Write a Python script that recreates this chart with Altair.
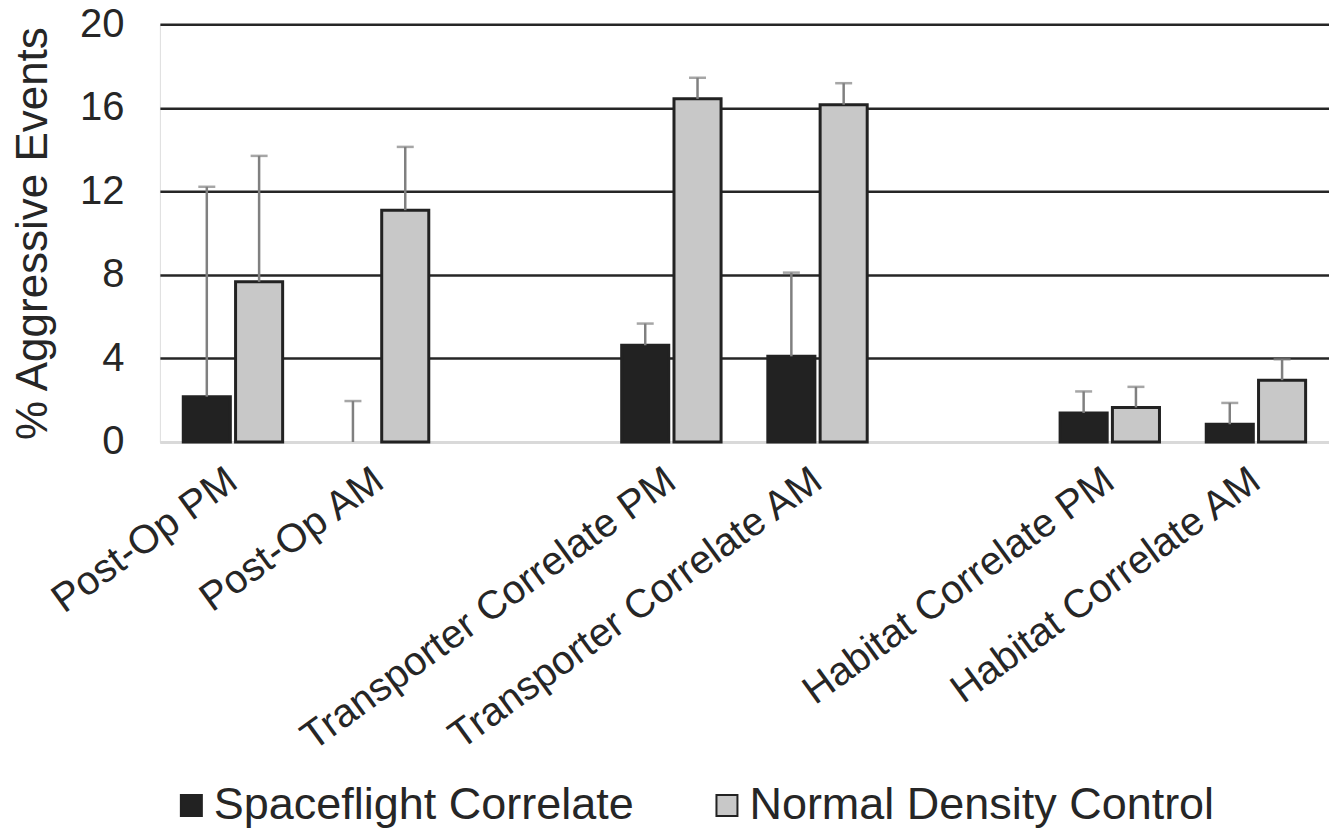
import altair as alt
import pandas as pd

categories = ["Post-Op PM", "Post-Op AM", " ", "Transporter Correlate PM",
              "Transporter Correlate AM", "  ", "Habitat Correlate PM", "Habitat Correlate AM"]
groups = ["Post-Op PM", "Post-Op AM", "Transporter Correlate PM",
          "Transporter Correlate AM", "Habitat Correlate PM", "Habitat Correlate AM"]
series = ["Spaceflight Correlate", "Normal Density Control"]
spaceflight_mean = [2.17, 0.0, 4.63, 4.10, 1.39, 0.85]
spaceflight_err = [10.05, 1.96, 1.04, 4.01, 1.03, 1.02]
control_mean = [7.67, 11.10, 16.43, 16.15, 1.65, 2.96]
control_err = [6.03, 3.03, 1.01, 1.03, 0.99, 1.00]
y_ticks = [0, 4, 8, 12, 16, 20]

rows = []
for i, g in enumerate(groups):
    rows.append({"cat": g, "series": series[0], "value": spaceflight_mean[i],
                 "upper": spaceflight_mean[i] + spaceflight_err[i]})
    rows.append({"cat": g, "series": series[1], "value": control_mean[i],
                 "upper": control_mean[i] + control_err[i]})
df = pd.DataFrame(rows)

FONT = "Liberation Sans"
TXT = "#262626"

x_enc = alt.X("cat:N", scale=alt.Scale(domain=categories, paddingInner=0.32, paddingOuter=0.16),
              sort=categories,
              axis=alt.Axis(title=None, labelAngle=324, labelFontSize=40, labelFont=FONT,
                            labelColor=TXT, ticks=False, domain=True, domainColor="#d9d9d9",
                            domainWidth=3, labelPadding=34, labelLimit=1000, labelAlign="right",
                            labelBaseline="middle"))
xo_enc = alt.XOffset("series:N", scale=alt.Scale(domain=series, paddingInner=0.1), sort=series)
y_scale = alt.Scale(domain=[0, 20], nice=False)

bars = alt.Chart(df).mark_bar(stroke="#222222").encode(
    x=x_enc,
    xOffset=xo_enc,
    y=alt.Y("value:Q", scale=y_scale,
            axis=alt.Axis(title="% Aggressive Events", values=y_ticks, labelFontSize=40,
                          labelFont=FONT, labelColor=TXT, titleFont=FONT, titleFontSize=44,
                          titleColor=TXT, titleFontWeight="normal", domain=False, ticks=False,
                          labelPadding=36, titlePadding=24,
                          gridColor={"condition": {"test": "datum.value === 0", "value": "#d9d9d9"},
                                     "value": "#262626"},
                          gridWidth=2.5)),
    color=alt.Color("series:N", scale=alt.Scale(domain=series, range=["#222222", "#c8c8c8"]),
                    sort=series,
                    legend=alt.Legend(title=None, orient="none", direction="horizontal",
                                      legendX=9, legendY=759, labelFont=FONT, labelFontSize=45,
                                      labelColor=TXT, symbolType="square", symbolSize=441,
                                      symbolStrokeColor="#222222", symbolStrokeWidth=2,
                                      labelOffset=0, columnPadding=70, labelLimit=1000)),
    strokeWidth=alt.condition(alt.datum.value > 0, alt.value(3), alt.value(0)),
)

err = alt.Chart(df).mark_rule(color="#808080", strokeWidth=2.5).encode(
    x=alt.X("cat:N", sort=categories),
    xOffset=alt.XOffset("series:N", sort=series),
    y=alt.Y("value:Q", scale=y_scale),
    y2="upper:Q",
)
caps = alt.Chart(df).mark_tick(color="#808080", size=17, thickness=2.5).encode(
    x=alt.X("cat:N", sort=categories),
    xOffset=alt.XOffset("series:N", sort=series),
    y=alt.Y("upper:Q", scale=y_scale),
)

chart = alt.layer(bars, err, caps).properties(
    width=1170, height=418,
    autosize=alt.AutoSizeParams(type="none"),
    padding={"left": 152, "top": 16, "right": 0, "bottom": 388},
).configure_view(stroke=None).configure(background="white")

chart.save("out.html", embed_options={"renderer": "svg", "actions": False})
